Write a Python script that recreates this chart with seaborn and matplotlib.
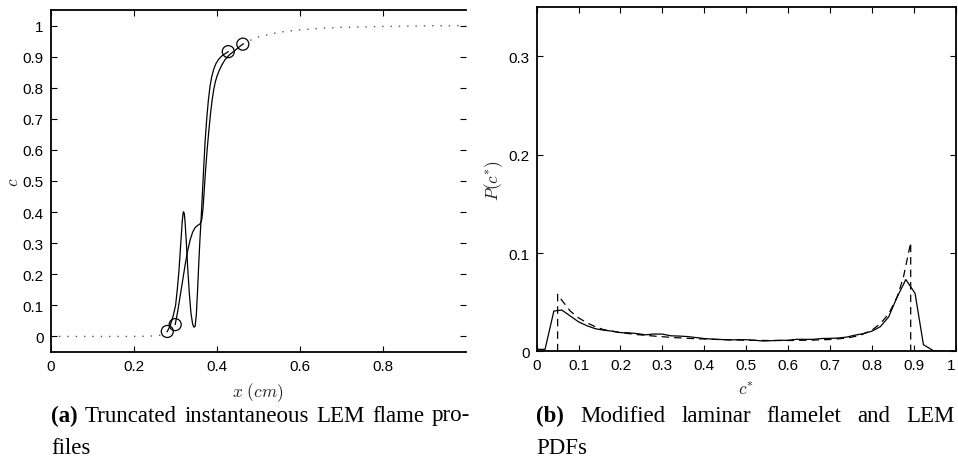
import matplotlib
matplotlib.use("Agg")
import matplotlib.pyplot as plt
import pandas as pd
import seaborn as sns

# ---------------- (a) truncated instantaneous LEM flame profiles ----------------
# profile with the oscillation
prof1_x = [0.281, 0.288, 0.295, 0.301, 0.305, 0.309, 0.312, 0.315, 0.317, 0.319,
           0.320, 0.322, 0.324, 0.327, 0.330, 0.334, 0.338, 0.342, 0.345, 0.348,
           0.351, 0.354, 0.357, 0.360, 0.363, 0.366, 0.369, 0.372, 0.376, 0.380,
           0.384, 0.388, 0.393, 0.398, 0.405, 0.413, 0.421, 0.428]
prof1_c = [0.016, 0.035, 0.065, 0.100, 0.150, 0.210, 0.270, 0.330, 0.370, 0.395,
           0.401, 0.395, 0.365, 0.300, 0.225, 0.140, 0.075, 0.040, 0.030, 0.032,
           0.070, 0.150, 0.240, 0.320, 0.390, 0.470, 0.550, 0.625, 0.700, 0.760,
           0.805, 0.835, 0.860, 0.877, 0.892, 0.903, 0.910, 0.916]
# profile with the plateau near c = 0.36
prof2_x = [0.300, 0.306, 0.312, 0.318, 0.324, 0.330, 0.336, 0.342, 0.348, 0.354,
           0.360, 0.364, 0.367, 0.370, 0.373, 0.377, 0.381, 0.385, 0.389, 0.393,
           0.397, 0.401, 0.406, 0.412, 0.420, 0.430, 0.444, 0.455, 0.463]
prof2_c = [0.038, 0.080, 0.130, 0.180, 0.230, 0.275, 0.310, 0.335, 0.350, 0.357,
           0.362, 0.375, 0.410, 0.470, 0.530, 0.600, 0.660, 0.715, 0.760, 0.795,
           0.820, 0.838, 0.855, 0.872, 0.890, 0.905, 0.920, 0.932, 0.940]
# unburnt and burnt tails outside the truncated region
tail_lo_x = [0.0, 0.05, 0.10, 0.15, 0.20, 0.24, 0.26, 0.27, 0.281]
tail_lo_c = [0.0, 0.0, 0.0, 0.0, 0.0, 0.001, 0.003, 0.006, 0.016]
tail_hi_x = [0.463, 0.48, 0.50, 0.53, 0.56, 0.60, 0.65, 0.70, 0.80, 0.90, 1.00]
tail_hi_c = [0.940, 0.952, 0.963, 0.973, 0.980, 0.986, 0.991, 0.994, 0.997, 0.999, 1.000]
# truncation end points
ends_x = [0.281, 0.300, 0.428, 0.463]
ends_c = [0.016, 0.038, 0.916, 0.940]

# ---------------- (b) modified laminar flamelet and LEM PDFs ----------------
lem_c = [0.0, 0.02, 0.041, 0.06, 0.08, 0.10, 0.12, 0.14, 0.16, 0.18, 0.20, 0.22,
         0.24, 0.26, 0.28, 0.30, 0.32, 0.34, 0.36, 0.38, 0.40, 0.42, 0.44, 0.46,
         0.48, 0.50, 0.52, 0.54, 0.56, 0.58, 0.60, 0.62, 0.64, 0.66, 0.68, 0.70,
         0.72, 0.74, 0.76, 0.78, 0.80, 0.82, 0.84, 0.86, 0.881, 0.903, 0.923,
         0.947, 0.96, 1.0]
lem_p = [0.002, 0.002, 0.041, 0.042, 0.036, 0.030, 0.026, 0.023, 0.0215, 0.0205,
         0.019, 0.0188, 0.018, 0.0168, 0.0176, 0.0175, 0.0158, 0.0155, 0.0150,
         0.0140, 0.0130, 0.0124, 0.0120, 0.0116, 0.0118, 0.0118, 0.0112, 0.0105,
         0.0108, 0.0112, 0.0112, 0.0122, 0.0122, 0.0122, 0.0130, 0.0132, 0.0135,
         0.0145, 0.0165, 0.0180, 0.0205, 0.025, 0.035, 0.055, 0.073, 0.059,
         0.0067, 0.0006, 0.0, 0.0]
flamelet_c = [0.05, 0.05, 0.06, 0.08, 0.10, 0.12, 0.14, 0.16, 0.20, 0.24, 0.28,
              0.32, 0.36, 0.40, 0.45, 0.50, 0.55, 0.60, 0.65, 0.70, 0.74, 0.77,
              0.80, 0.82, 0.84, 0.86, 0.875, 0.8926, 0.8926]
flamelet_p = [0.0, 0.058, 0.052, 0.041, 0.034, 0.029, 0.025, 0.022, 0.019, 0.017,
              0.0155, 0.0142, 0.0132, 0.0125, 0.0118, 0.0113, 0.0110, 0.0110,
              0.0113, 0.0120, 0.0135, 0.0160, 0.0215, 0.028, 0.038, 0.055, 0.075,
              0.1107, 0.0]

# ---------------- style ----------------
sns.set_theme(style="ticks")
plt.rcParams['font.family'] = ['Liberation Sans', 'DejaVu Sans']
plt.rcParams['mathtext.fontset'] = 'cm'
plt.rcParams['axes.linewidth'] = 1.3

fig = plt.figure(figsize=(9.58, 4.77), dpi=100)
ax1 = fig.add_axes([0.0529, 0.260, 0.4332, 0.717])
ax2 = fig.add_axes([0.5602, 0.2614, 0.4374, 0.7212])

lw = 0.9
dot_style = (0, (1.0, 5.0))

# panel (a)
sns.lineplot(x=tail_lo_x, y=tail_lo_c, ax=ax1, color="#555555", lw=1.0,
             linestyle=dot_style, sort=False, estimator=None)
sns.lineplot(x=tail_hi_x, y=tail_hi_c, ax=ax1, color="#555555", lw=1.0,
             linestyle=dot_style, sort=False, estimator=None)
sns.lineplot(x=prof1_x, y=prof1_c, ax=ax1, color="black", lw=lw,
             sort=False, estimator=None)
sns.lineplot(x=prof2_x, y=prof2_c, ax=ax1, color="black", lw=lw,
             sort=False, estimator=None)
sns.scatterplot(x=ends_x, y=ends_c, ax=ax1, s=75, facecolor="none",
                edgecolor="black", linewidth=0.9, zorder=5)

ax1.set_xlim(0, 1)
ax1.set_ylim(-0.05, 1.05)
ax1.set_xticks([0, 0.2, 0.4, 0.6, 0.8])
ax1.set_xticklabels(["0", "0.2", "0.4", "0.6", "0.8"])
ax1.set_yticks([i / 10 for i in range(11)])
ax1.set_yticklabels(["0"] + [f"0.{i}" for i in range(1, 10)] + ["1"])
ax1.spines["right"].set_visible(False)
ax1.tick_params(direction="in", length=4, width=0.8, top=True, right=True,
                labelsize=11, pad=5, colors="black")
ax1.set_xlabel("$x\\ (cm)$", fontsize=12.5, color="#222222")
ax1.set_ylabel("$c$", fontsize=12.5, color="#222222")
ax1.xaxis.set_label_coords(0.5, -0.083)
ax1.yaxis.set_label_coords(-0.072, 0.5)

# panel (b)
sns.lineplot(x=flamelet_c, y=flamelet_p, ax=ax2, color="black", lw=lw,
             linestyle=(0, (6, 4)), sort=False, estimator=None)
sns.lineplot(x=lem_c, y=lem_p, ax=ax2, color="black", lw=lw,
             sort=False, estimator=None)
ax2.set_xlim(0, 1)
ax2.set_ylim(0, 0.35)
ax2.set_xticks([i / 10 for i in range(11)])
ax2.set_xticklabels(["0"] + [f"0.{i}" for i in range(1, 10)] + ["1"])
ax2.get_xticklabels()[-1].set_horizontalalignment("right")
ax2.set_yticks([0, 0.1, 0.2, 0.3])
ax2.set_yticklabels(["0", "0.1", "0.2", "0.3"])
ax2.tick_params(direction="in", length=4, width=0.8, top=True, right=True,
                labelsize=11, pad=5, colors="black")
ax2.set_xlabel("$c^{*}$", fontsize=12.5, color="#222222")
ax2.set_ylabel("$P(c^{*})$", fontsize=12.5, color="#222222")
ax2.xaxis.set_label_coords(0.5, -0.085)
ax2.yaxis.set_label_coords(-0.076, 0.5)

for ax in (ax1, ax2):
    for sp in ax.spines.values():
        sp.set_color("black")

# ---------------- sub-captions ----------------
cap_font = dict(family=['Liberation Serif', 'DejaVu Serif'], fontsize=16.5, color="black")
renderer = fig.canvas.get_renderer()
W, H = fig.bbox.width, fig.bbox.height


def justified_line(words, x0, x1, y, bold_first=True):
    """Place words so that the line spans x0..x1 (pixels), centred vertically at y."""
    texts = []
    for i, w in enumerate(words):
        t = fig.text(0, 1 - y / H, w, va="center", ha="left",
                     fontweight="bold" if (bold_first and i == 0) else "normal",
                     **cap_font)
        texts.append(t)
    widths = [t.get_window_extent(renderer).width for t in texts]
    gap = (x1 - x0 - sum(widths)) / max(len(words) - 1, 1)
    x = x0
    for t, w in zip(texts, widths):
        t.set_x(x / W)
        x += w + gap


justified_line(["(a)", "Truncated", "instantaneous", "LEM", "flame", "pro-"],
               51, 470, 416)
fig.text(51 / W, 1 - 448 / H, "files", va="center", ha="left", **cap_font)
justified_line(["(b)", "Modified", "laminar", "flamelet", "and", "LEM"],
               536, 955, 416)
fig.text(536 / W, 1 - 448 / H, "PDFs", va="center", ha="left", **cap_font)

fig.savefig("out.png", dpi=100)
